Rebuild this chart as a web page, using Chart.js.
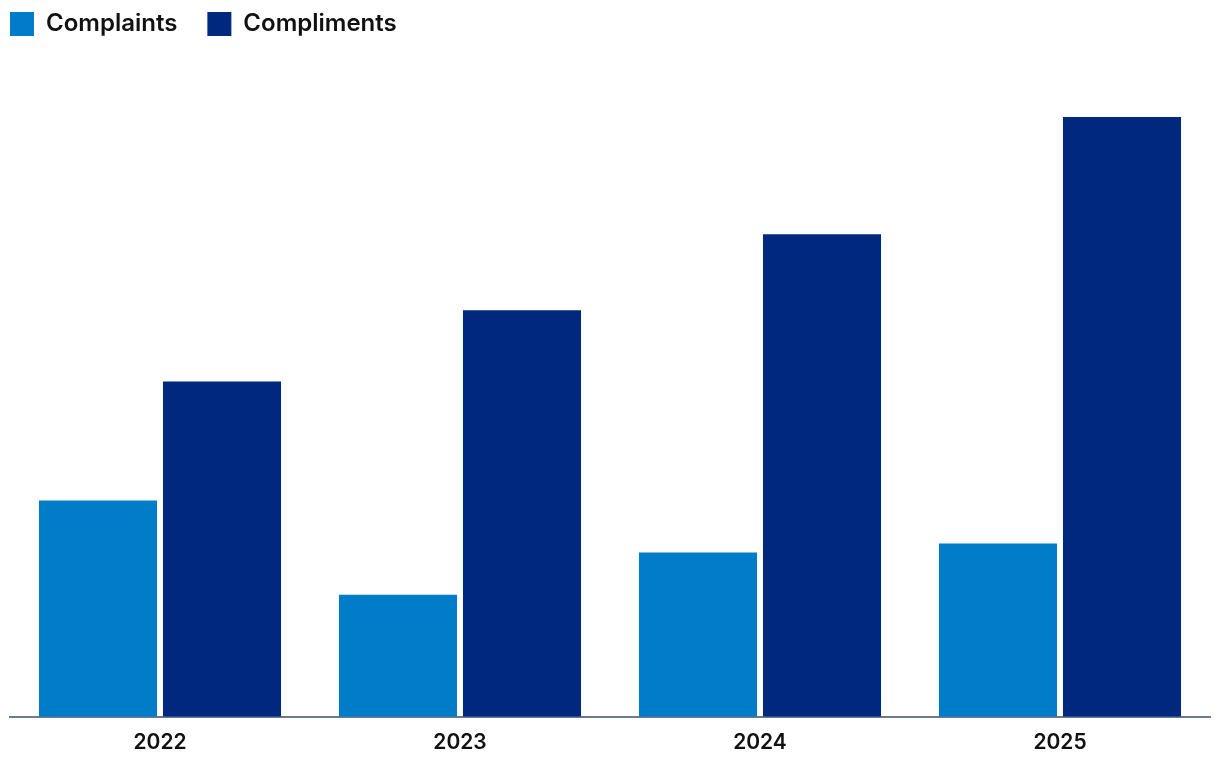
<!DOCTYPE html>
<html>
<head>
<meta charset="utf-8">
<script src="https://cdn.jsdelivr.net/npm/chart.js@4/dist/chart.umd.min.js"></script>
<style>
    html, body { margin: 0; padding: 0; background: #ffffff; }
    #wrap { width: 1220px; height: 768px; }
</style>
</head>
<body>
<div id="wrap"><canvas id="chart"></canvas></div>
<script>
// Años y valores (unidades relativas)
const years = ['2022', '2023', '2024', '2025'];
const complaints = [216, 122, 164, 173];
const compliments = [335, 406, 482, 599];

const colors = {
    complaints: '#007cc8',
    compliments: '#00287e',
    axis: '#6b7a90'
};

const fontFamily = 'Inter, "Open Sans", sans-serif';

// Mover la leyenda a la esquina superior izquierda (Chart.js añade el padding a la izquierda)
const legendShift = {
    id: 'legendShift',
    afterLayout(chart) {
        chart.legend.left -= 30;
        chart.legend.top -= 18;
    }
};

new Chart(document.getElementById('chart'), {
    type: 'bar',
    data: {
        labels: years,
        datasets: [
            {
                label: 'Complaints',
                data: complaints,
                backgroundColor: colors.complaints
            },
            {
                label: 'Compliments',
                data: compliments,
                backgroundColor: colors.compliments
            }
        ]
    },
    plugins: [legendShift],
    options: {
        responsive: true,
        maintainAspectRatio: false,
        animation: false,
        categoryPercentage: 0.8267,
        barPercentage: 0.952,
        layout: {
            padding: { left: 10, right: 10, top: 0, bottom: 8 }
        },
        plugins: {
            legend: {
                position: 'top',
                align: 'start',
                labels: {
                    boxWidth: 24,
                    boxHeight: 24,
                    padding: 30,
                    color: '#111111',
                    font: { family: fontFamily, size: 24, weight: '600' }
                }
            },
            tooltip: { enabled: false }
        },
        scales: {
            x: {
                grid: { display: false },
                border: { color: colors.axis, width: 2 },
                ticks: {
                    color: '#111111',
                    padding: 5,
                    font: { family: fontFamily, size: 21, weight: '600' }
                }
            },
            y: {
                display: false,
                min: 0,
                max: 652
            }
        }
    }
});
</script>
</body>
</html>
